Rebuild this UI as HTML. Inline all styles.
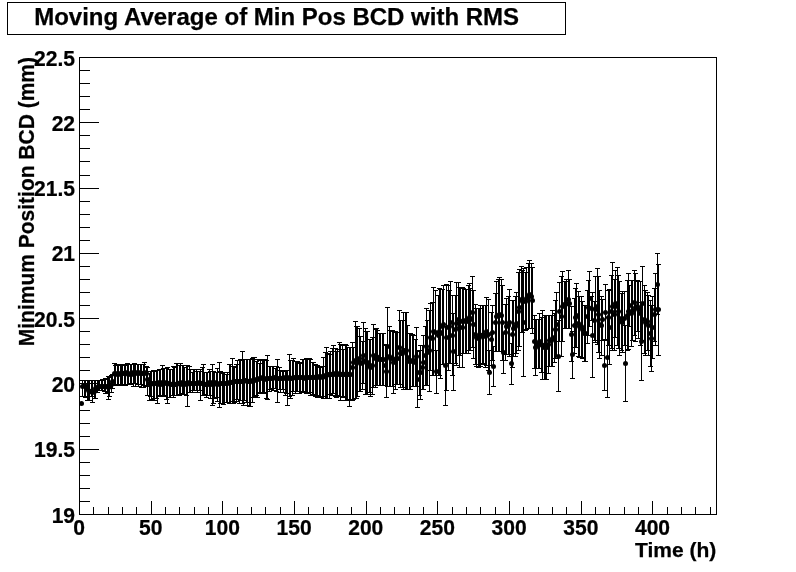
<!DOCTYPE html>
<html lang="en"><head><meta charset="utf-8"><title>Moving Average of Min Pos BCD with RMS</title>
<style>html,body{margin:0;padding:0;background:#fff;}body{width:796px;height:572px;overflow:hidden;}svg{display:block;}text{font-family:"Liberation Sans",sans-serif;font-weight:bold;fill:#000;stroke:#000;stroke-width:0.25px;}</style></head><body>
<svg width="796" height="572" viewBox="0 0 796 572">
<rect x="0" y="0" width="796" height="572" fill="#fff"/>
<rect x="7.5" y="2.5" width="558" height="32" fill="#fff" stroke="#000" stroke-width="1" shape-rendering="crispEdges"/>
<text transform="translate(34.2,25)" font-size="24.0" text-anchor="start">Moving Average of Min Pos BCD with RMS</text>
<g stroke="#000" stroke-width="1" shape-rendering="crispEdges" fill="none">
<rect x="79.5" y="57.5" width="637.0" height="457.0"/>
<path d="M79.5 514.5h19M79.5 501.5h10M79.5 488.5h10M79.5 475.5h10M79.5 462.5h10M79.5 449.5h19M79.5 436.5h10M79.5 423.5h10M79.5 410.5h10M79.5 396.5h10M79.5 383.5h19M79.5 370.5h10M79.5 357.5h10M79.5 344.5h10M79.5 331.5h10M79.5 318.5h19M79.5 305.5h10M79.5 292.5h10M79.5 279.5h10M79.5 266.5h10M79.5 253.5h19M79.5 240.5h10M79.5 227.5h10M79.5 214.5h10M79.5 201.5h10M79.5 188.5h19M79.5 175.5h10M79.5 161.5h10M79.5 148.5h10M79.5 135.5h10M79.5 122.5h19M79.5 109.5h10M79.5 96.5h10M79.5 83.5h10M79.5 70.5h10M79.5 57.5h19M79.5 514.5v-13.5M93.5 514.5v-7.5M108.5 514.5v-7.5M122.5 514.5v-7.5M136.5 514.5v-7.5M151.5 514.5v-13.5M165.5 514.5v-7.5M179.5 514.5v-7.5M194.5 514.5v-7.5M208.5 514.5v-7.5M222.5 514.5v-13.5M237.5 514.5v-7.5M251.5 514.5v-7.5M265.5 514.5v-7.5M280.5 514.5v-7.5M294.5 514.5v-13.5M308.5 514.5v-7.5M323.5 514.5v-7.5M337.5 514.5v-7.5M351.5 514.5v-7.5M366.5 514.5v-13.5M380.5 514.5v-7.5M394.5 514.5v-7.5M409.5 514.5v-7.5M423.5 514.5v-7.5M437.5 514.5v-13.5M452.5 514.5v-7.5M466.5 514.5v-7.5M480.5 514.5v-7.5M495.5 514.5v-7.5M509.5 514.5v-13.5M523.5 514.5v-7.5M538.5 514.5v-7.5M552.5 514.5v-7.5M566.5 514.5v-7.5M581.5 514.5v-13.5M595.5 514.5v-7.5M609.5 514.5v-7.5M624.5 514.5v-7.5M638.5 514.5v-7.5M652.5 514.5v-13.5M667.5 514.5v-7.5M681.5 514.5v-7.5M695.5 514.5v-7.5M710.5 514.5v-7.5"/>
</g>
<text transform="translate(75.1,522.5) scale(0.925,1)" font-size="22.8" text-anchor="end">19</text>
<text transform="translate(75.1,457.2142857142857) scale(0.925,1)" font-size="22.8" text-anchor="end">19.5</text>
<text transform="translate(75.1,391.92857142857144) scale(0.925,1)" font-size="22.8" text-anchor="end">20</text>
<text transform="translate(75.1,326.64285714285717) scale(0.925,1)" font-size="22.8" text-anchor="end">20.5</text>
<text transform="translate(75.1,261.3571428571429) scale(0.925,1)" font-size="22.8" text-anchor="end">21</text>
<text transform="translate(75.1,196.07142857142856) scale(0.925,1)" font-size="22.8" text-anchor="end">21.5</text>
<text transform="translate(75.1,130.78571428571433) scale(0.925,1)" font-size="22.8" text-anchor="end">22</text>
<text transform="translate(75.1,65.5) scale(0.925,1)" font-size="22.8" text-anchor="end">22.5</text>
<text transform="translate(79.0,535.3) scale(0.925,1)" font-size="22.8" text-anchor="middle">0</text>
<text transform="translate(150.6857978843124,535.3) scale(0.925,1)" font-size="22.8" text-anchor="middle">50</text>
<text transform="translate(222.3715957686248,535.3) scale(0.925,1)" font-size="22.8" text-anchor="middle">100</text>
<text transform="translate(294.0573936529372,535.3) scale(0.925,1)" font-size="22.8" text-anchor="middle">150</text>
<text transform="translate(365.7431915372496,535.3) scale(0.925,1)" font-size="22.8" text-anchor="middle">200</text>
<text transform="translate(437.428989421562,535.3) scale(0.925,1)" font-size="22.8" text-anchor="middle">250</text>
<text transform="translate(509.1147873058744,535.3) scale(0.925,1)" font-size="22.8" text-anchor="middle">300</text>
<text transform="translate(580.8005851901868,535.3) scale(0.925,1)" font-size="22.8" text-anchor="middle">350</text>
<text transform="translate(652.4863830744991,535.3) scale(0.925,1)" font-size="22.8" text-anchor="middle">400</text>
<text transform="translate(716.3,556.8)" font-size="21.0" text-anchor="end">Time (h)</text>
<text transform="translate(33.9,57.0) rotate(-90) scale(0.9375,1)" font-size="22.4" text-anchor="end">Minimum Position BCD (mm)</text>
<path d="M82.5 380.0V397.0M80.0 380.5h5M80.0 396.5h5M84.5 380.0V397.0M82.0 380.5h5M82.0 396.5h5M85.5 380.0V398.0M83.0 380.5h5M83.0 397.5h5M87.5 380.0V401.0M85.0 380.5h5M85.0 400.5h5M88.5 380.0V401.0M86.0 380.5h5M86.0 400.5h5M89.5 380.0V401.0M87.0 380.5h5M87.0 400.5h5M91.5 380.0V397.0M89.0 380.5h5M89.0 396.5h5M92.5 380.0V403.0M90.0 380.5h5M90.0 402.5h5M94.5 380.0V399.0M92.0 380.5h5M92.0 398.5h5M95.5 380.0V399.0M93.0 380.5h5M93.0 398.5h5M97.5 380.0V393.0M95.0 380.5h5M95.0 392.5h5M98.5 380.0V391.0M96.0 380.5h5M96.0 390.5h5M99.5 380.0V391.0M97.0 380.5h5M97.0 390.5h5M101.5 380.0V391.0M99.0 380.5h5M99.0 390.5h5M102.5 379.0V391.0M100.0 379.5h5M100.0 390.5h5M104.5 379.0V392.0M102.0 379.5h5M102.0 391.5h5M105.5 378.0V394.0M103.0 378.5h5M103.0 393.5h5M107.5 378.0V393.0M105.0 378.5h5M105.0 392.5h5M108.5 376.0V400.0M106.0 376.5h5M106.0 399.5h5M109.5 377.0V397.0M107.0 377.5h5M107.0 396.5h5M111.5 375.0V393.0M109.0 375.5h5M109.0 392.5h5M112.5 374.0V389.0M110.0 374.5h5M110.0 388.5h5M114.5 363.0V385.0M112.0 363.5h5M112.0 384.5h5M115.5 365.0V386.0M113.0 365.5h5M113.0 385.5h5M117.5 364.0V385.0M115.0 364.5h5M115.0 384.5h5M118.5 365.0V386.0M116.0 365.5h5M116.0 385.5h5M120.5 364.0V386.0M118.0 364.5h5M118.0 385.5h5M121.5 364.0V386.0M119.0 364.5h5M119.0 385.5h5M122.5 364.0V385.0M120.0 364.5h5M120.0 384.5h5M124.5 365.0V385.0M122.0 365.5h5M122.0 384.5h5M125.5 364.0V386.0M123.0 364.5h5M123.0 385.5h5M127.5 363.0V385.0M125.0 363.5h5M125.0 384.5h5M128.5 364.0V385.0M126.0 364.5h5M126.0 384.5h5M130.5 364.0V384.0M128.0 364.5h5M128.0 383.5h5M131.5 364.0V385.0M129.0 364.5h5M129.0 384.5h5M133.5 364.0V387.0M131.0 364.5h5M131.0 386.5h5M134.5 363.0V384.0M132.0 363.5h5M132.0 383.5h5M135.5 364.0V387.0M133.0 364.5h5M133.0 386.5h5M137.5 364.0V385.0M135.0 364.5h5M135.0 384.5h5M138.5 364.0V387.0M136.0 364.5h5M136.0 386.5h5M140.5 364.0V385.0M138.0 364.5h5M138.0 384.5h5M141.5 364.0V388.0M139.0 364.5h5M139.0 387.5h5M143.5 364.0V388.0M141.0 364.5h5M141.0 387.5h5M144.5 362.0V386.0M142.0 362.5h5M142.0 385.5h5M146.5 366.0V387.0M144.0 366.5h5M144.0 386.5h5M147.5 367.0V396.0M145.0 367.5h5M145.0 395.5h5M149.5 373.0V401.0M147.0 373.5h5M147.0 400.5h5M150.5 371.0V397.0M148.0 371.5h5M148.0 396.5h5M151.5 371.0V400.0M149.0 371.5h5M149.0 399.5h5M153.5 370.0V399.0M151.0 370.5h5M151.0 398.5h5M154.5 371.0V401.0M152.0 371.5h5M152.0 400.5h5M156.5 370.0V399.0M154.0 370.5h5M154.0 398.5h5M157.5 370.0V404.0M155.0 370.5h5M155.0 403.5h5M159.5 369.0V396.0M157.0 369.5h5M157.0 395.5h5M160.5 369.0V397.0M158.0 369.5h5M158.0 396.5h5M162.5 365.0V397.0M160.0 365.5h5M160.0 396.5h5M163.5 368.0V397.0M161.0 368.5h5M161.0 396.5h5M164.5 368.0V396.0M162.0 368.5h5M162.0 395.5h5M166.5 368.0V400.0M164.0 368.5h5M164.0 399.5h5M167.5 367.0V404.0M165.0 367.5h5M165.0 403.5h5M169.5 369.0V398.0M167.0 369.5h5M167.0 397.5h5M170.5 369.0V398.0M168.0 369.5h5M168.0 397.5h5M172.5 369.0V396.0M170.0 369.5h5M170.0 395.5h5M173.5 366.0V398.0M171.0 366.5h5M171.0 397.5h5M174.5 367.0V396.0M172.0 367.5h5M172.0 395.5h5M176.5 363.0V396.0M174.0 363.5h5M174.0 395.5h5M177.5 363.0V396.0M175.0 363.5h5M175.0 395.5h5M179.5 365.0V396.0M177.0 365.5h5M177.0 395.5h5M180.5 363.0V395.0M178.0 363.5h5M178.0 394.5h5M182.5 365.0V394.0M180.0 365.5h5M180.0 393.5h5M183.5 365.0V395.0M181.0 365.5h5M181.0 394.5h5M184.5 367.0V395.0M182.0 367.5h5M182.0 394.5h5M186.5 365.0V396.0M184.0 365.5h5M184.0 395.5h5M187.5 365.0V407.0M185.0 365.5h5M185.0 406.5h5M189.5 366.0V393.0M187.0 366.5h5M187.0 392.5h5M190.5 369.0V393.0M188.0 369.5h5M188.0 392.5h5M192.5 372.0V393.0M190.0 372.5h5M190.0 392.5h5M193.5 369.0V391.0M191.0 369.5h5M191.0 390.5h5M194.5 369.0V391.0M192.0 369.5h5M192.0 390.5h5M196.5 369.0V391.0M194.0 369.5h5M194.0 390.5h5M197.5 371.0V393.0M195.0 371.5h5M195.0 392.5h5M199.5 371.0V391.0M197.0 371.5h5M197.0 390.5h5M200.5 369.0V401.0M198.0 369.5h5M198.0 400.5h5M202.5 367.0V396.0M200.0 367.5h5M200.0 395.5h5M203.5 364.0V396.0M201.0 364.5h5M201.0 395.5h5M204.5 372.0V395.0M202.0 372.5h5M202.0 394.5h5M206.5 372.0V398.0M204.0 372.5h5M204.0 397.5h5M207.5 372.0V396.0M205.0 372.5h5M205.0 395.5h5M209.5 369.0V396.0M207.0 369.5h5M207.0 395.5h5M210.5 371.0V399.0M208.0 371.5h5M208.0 398.5h5M212.5 364.0V406.0M210.0 364.5h5M210.0 405.5h5M213.5 371.0V404.0M211.0 371.5h5M211.0 403.5h5M214.5 372.0V399.0M212.0 372.5h5M212.0 398.5h5M216.5 372.0V398.0M214.0 372.5h5M214.0 397.5h5M217.5 368.0V402.0M215.0 368.5h5M215.0 401.5h5M219.5 362.0V408.0M217.0 362.5h5M217.0 407.5h5M220.5 371.0V404.0M218.0 371.5h5M218.0 403.5h5M222.5 373.0V404.0M220.0 373.5h5M220.0 403.5h5M223.5 372.0V405.0M221.0 372.5h5M221.0 404.5h5M224.5 372.0V403.0M222.0 372.5h5M222.0 402.5h5M226.5 374.0V403.0M224.0 374.5h5M224.0 402.5h5M227.5 372.0V403.0M225.0 372.5h5M225.0 402.5h5M229.5 364.0V404.0M227.0 364.5h5M227.0 403.5h5M230.5 364.0V404.0M228.0 364.5h5M228.0 403.5h5M232.5 358.0V402.0M230.0 358.5h5M230.0 401.5h5M233.5 366.0V404.0M231.0 366.5h5M231.0 403.5h5M234.5 367.0V403.0M232.0 367.5h5M232.0 402.5h5M236.5 364.0V402.0M234.0 364.5h5M234.0 401.5h5M237.5 360.0V400.0M235.0 360.5h5M235.0 399.5h5M239.5 360.0V404.0M237.0 360.5h5M237.0 403.5h5M240.5 359.0V401.0M238.0 359.5h5M238.0 400.5h5M242.5 351.0V404.0M240.0 351.5h5M240.0 403.5h5M243.5 359.0V406.0M241.0 359.5h5M241.0 405.5h5M244.5 359.0V401.0M242.0 359.5h5M242.0 400.5h5M246.5 359.0V403.0M244.0 359.5h5M244.0 402.5h5M247.5 359.0V406.0M245.0 359.5h5M245.0 405.5h5M249.5 359.0V407.0M247.0 359.5h5M247.0 406.5h5M250.5 359.0V407.0M248.0 359.5h5M248.0 406.5h5M252.5 358.0V403.0M250.0 358.5h5M250.0 402.5h5M253.5 357.0V398.0M251.0 357.5h5M251.0 397.5h5M254.5 357.0V397.0M252.0 357.5h5M252.0 396.5h5M256.5 361.0V396.0M254.0 361.5h5M254.0 395.5h5M257.5 359.0V398.0M255.0 359.5h5M255.0 397.5h5M259.5 363.0V394.0M257.0 363.5h5M257.0 393.5h5M260.5 360.0V393.0M258.0 360.5h5M258.0 392.5h5M262.5 359.0V394.0M260.0 359.5h5M260.0 393.5h5M263.5 359.0V394.0M261.0 359.5h5M261.0 393.5h5M264.5 359.0V393.0M262.0 359.5h5M262.0 392.5h5M266.5 360.0V399.0M264.0 360.5h5M264.0 398.5h5M267.5 355.0V400.0M265.0 355.5h5M265.0 399.5h5M269.5 366.0V392.0M267.0 366.5h5M267.0 391.5h5M270.5 366.0V390.0M268.0 366.5h5M268.0 389.5h5M272.5 366.0V389.0M270.0 366.5h5M270.0 388.5h5M273.5 366.0V391.0M271.0 366.5h5M271.0 390.5h5M275.5 368.0V389.0M273.0 368.5h5M273.0 388.5h5M276.5 366.0V392.0M274.0 366.5h5M274.0 391.5h5M277.5 359.0V403.0M275.0 359.5h5M275.0 402.5h5M279.5 367.0V390.0M277.0 367.5h5M277.0 389.5h5M280.5 370.0V393.0M278.0 370.5h5M278.0 392.5h5M282.5 371.0V390.0M280.0 371.5h5M280.0 389.5h5M283.5 370.0V393.0M281.0 370.5h5M281.0 392.5h5M285.5 370.0V396.0M283.0 370.5h5M283.0 395.5h5M286.5 370.0V394.0M284.0 370.5h5M284.0 393.5h5M287.5 370.0V406.0M285.0 370.5h5M285.0 405.5h5M289.5 354.0V397.0M287.0 354.5h5M287.0 396.5h5M290.5 360.0V399.0M288.0 360.5h5M288.0 398.5h5M292.5 360.0V396.0M290.0 360.5h5M290.0 395.5h5M293.5 358.0V392.0M291.0 358.5h5M291.0 391.5h5M295.5 361.0V394.0M293.0 361.5h5M293.0 393.5h5M296.5 361.0V392.0M294.0 361.5h5M294.0 391.5h5M297.5 361.0V392.0M295.0 361.5h5M295.0 391.5h5M299.5 363.0V394.0M297.0 363.5h5M297.0 393.5h5M300.5 362.0V392.0M298.0 362.5h5M298.0 391.5h5M302.5 359.0V393.0M300.0 359.5h5M300.0 392.5h5M303.5 359.0V392.0M301.0 359.5h5M301.0 391.5h5M305.5 359.0V393.0M303.0 359.5h5M303.0 392.5h5M306.5 358.0V394.0M304.0 358.5h5M304.0 393.5h5M307.5 358.0V394.0M305.0 358.5h5M305.0 393.5h5M309.5 358.0V393.0M307.0 358.5h5M307.0 392.5h5M310.5 359.0V396.0M308.0 359.5h5M308.0 395.5h5M312.5 362.0V396.0M310.0 362.5h5M310.0 395.5h5M313.5 362.0V395.0M311.0 362.5h5M311.0 394.5h5M315.5 364.0V397.0M313.0 364.5h5M313.0 396.5h5M316.5 365.0V396.0M314.0 365.5h5M314.0 395.5h5M317.5 365.0V398.0M315.0 365.5h5M315.0 397.5h5M319.5 366.0V397.0M317.0 366.5h5M317.0 396.5h5M320.5 367.0V398.0M318.0 367.5h5M318.0 397.5h5M322.5 366.0V397.0M320.0 366.5h5M320.0 396.5h5M323.5 357.0V399.0M321.0 357.5h5M321.0 398.5h5M325.5 352.0V399.0M323.0 352.5h5M323.0 398.5h5M326.5 347.0V399.0M324.0 347.5h5M324.0 398.5h5M327.5 353.0V399.0M325.0 353.5h5M325.0 398.5h5M329.5 354.0V399.0M327.0 354.5h5M327.0 398.5h5M330.5 351.0V395.0M328.0 351.5h5M328.0 394.5h5M332.5 348.0V396.0M330.0 348.5h5M330.0 395.5h5M333.5 345.0V394.0M331.0 345.5h5M331.0 393.5h5M335.5 348.0V397.0M333.0 348.5h5M333.0 396.5h5M336.5 351.0V398.0M334.0 351.5h5M334.0 397.5h5M337.5 349.0V396.0M335.0 349.5h5M335.0 395.5h5M339.5 342.0V397.0M337.0 342.5h5M337.0 396.5h5M340.5 344.0V401.0M338.0 344.5h5M338.0 400.5h5M342.5 345.0V398.0M340.0 345.5h5M340.0 397.5h5M343.5 349.0V397.0M341.0 349.5h5M341.0 396.5h5M345.5 344.0V401.0M343.0 344.5h5M343.0 400.5h5M346.5 345.0V401.0M344.0 345.5h5M344.0 400.5h5M347.5 347.0V400.0M345.0 347.5h5M345.0 399.5h5M349.5 347.0V407.0M347.0 347.5h5M347.0 406.5h5M350.5 347.0V400.0M348.0 347.5h5M348.0 399.5h5M352.5 342.0V401.0M350.0 342.5h5M350.0 400.5h5M353.5 347.0V400.0M351.0 347.5h5M351.0 399.5h5M355.5 321.0V399.0M353.0 321.5h5M353.0 398.5h5M356.5 326.0V399.0M354.0 326.5h5M354.0 398.5h5M357.5 326.0V397.0M355.0 326.5h5M355.0 396.5h5M359.5 328.0V392.0M357.0 328.5h5M357.0 391.5h5M360.5 336.0V392.0M358.0 336.5h5M358.0 391.5h5M362.5 341.0V390.0M360.0 341.5h5M360.0 389.5h5M363.5 322.0V384.0M361.0 322.5h5M361.0 383.5h5M365.5 328.0V395.0M363.0 328.5h5M363.0 394.5h5M366.5 331.0V395.0M364.0 331.5h5M364.0 394.5h5M367.5 331.0V395.0M365.0 331.5h5M365.0 394.5h5M369.5 339.0V393.0M367.0 339.5h5M367.0 392.5h5M370.5 339.0V397.0M368.0 339.5h5M368.0 396.5h5M372.5 337.0V395.0M370.0 337.5h5M370.0 394.5h5M373.5 324.0V388.0M371.0 324.5h5M371.0 387.5h5M375.5 329.0V388.0M373.0 329.5h5M373.0 387.5h5M376.5 328.0V386.0M374.0 328.5h5M374.0 385.5h5M377.5 330.0V386.0M375.0 330.5h5M375.0 385.5h5M379.5 333.0V386.0M377.0 333.5h5M377.0 385.5h5M380.5 333.0V386.0M378.0 333.5h5M378.0 385.5h5M382.5 333.0V386.0M380.0 333.5h5M380.0 385.5h5M383.5 333.0V386.0M381.0 333.5h5M381.0 385.5h5M385.5 344.0V386.0M383.0 344.5h5M383.0 385.5h5M386.5 345.0V398.0M384.0 345.5h5M384.0 397.5h5M387.5 307.0V387.0M385.0 307.5h5M385.0 386.5h5M389.5 326.0V387.0M387.0 326.5h5M387.0 386.5h5M390.5 330.0V387.0M388.0 330.5h5M388.0 386.5h5M392.5 330.0V387.0M390.0 330.5h5M390.0 386.5h5M393.5 331.0V394.0M391.0 331.5h5M391.0 393.5h5M395.5 331.0V390.0M393.0 331.5h5M393.0 389.5h5M396.5 332.0V385.0M394.0 332.5h5M394.0 384.5h5M397.5 332.0V385.0M395.0 332.5h5M395.0 384.5h5M399.5 310.0V385.0M397.0 310.5h5M397.0 384.5h5M400.5 320.0V388.0M398.0 320.5h5M398.0 387.5h5M402.5 320.0V388.0M400.0 320.5h5M400.0 387.5h5M403.5 312.0V390.0M401.0 312.5h5M401.0 389.5h5M405.5 312.0V390.0M403.0 312.5h5M403.0 389.5h5M406.5 312.0V390.0M404.0 312.5h5M404.0 389.5h5M407.5 325.0V390.0M405.0 325.5h5M405.0 389.5h5M409.5 333.0V390.0M407.0 333.5h5M407.0 389.5h5M410.5 333.0V390.0M408.0 333.5h5M408.0 389.5h5M412.5 334.0V387.0M410.0 334.5h5M410.0 386.5h5M413.5 335.0V387.0M411.0 335.5h5M411.0 386.5h5M415.5 339.0V387.0M413.0 339.5h5M413.0 386.5h5M416.5 327.0V387.0M414.0 327.5h5M414.0 386.5h5M417.5 351.0V408.0M415.0 351.5h5M415.0 407.5h5M419.5 350.0V396.0M417.0 350.5h5M417.0 395.5h5M420.5 345.0V400.0M418.0 345.5h5M418.0 399.5h5M422.5 345.0V390.0M420.0 345.5h5M420.0 389.5h5M423.5 335.0V390.0M421.0 335.5h5M421.0 389.5h5M425.5 326.0V386.0M423.0 326.5h5M423.0 385.5h5M426.5 308.0V386.0M424.0 308.5h5M424.0 385.5h5M427.5 320.0V386.0M425.0 320.5h5M425.0 385.5h5M429.5 310.0V392.0M427.0 310.5h5M427.0 391.5h5M430.5 303.0V371.0M428.0 303.5h5M428.0 370.5h5M432.5 302.0V376.0M430.0 302.5h5M430.0 375.5h5M433.5 287.0V376.0M431.0 287.5h5M431.0 375.5h5M435.5 290.0V376.0M433.0 290.5h5M433.0 375.5h5M436.5 350.0V394.0M434.0 350.5h5M434.0 393.5h5M438.5 295.0V376.0M436.0 295.5h5M436.0 375.5h5M439.5 288.0V376.0M437.0 288.5h5M437.0 375.5h5M440.5 289.0V379.0M438.0 289.5h5M438.0 378.5h5M442.5 289.0V365.0M440.0 289.5h5M440.0 364.5h5M443.5 285.0V365.0M441.0 285.5h5M441.0 364.5h5M445.5 326.0V406.0M443.0 326.5h5M443.0 405.5h5M446.5 284.0V391.0M444.0 284.5h5M444.0 390.5h5M448.5 285.0V371.0M446.0 285.5h5M446.0 370.5h5M449.5 290.0V364.0M447.0 290.5h5M447.0 363.5h5M450.5 281.0V364.0M448.0 281.5h5M448.0 363.5h5M452.5 295.0V376.0M450.0 295.5h5M450.0 375.5h5M453.5 313.0V391.0M451.0 313.5h5M451.0 390.5h5M455.5 295.0V364.0M453.0 295.5h5M453.0 363.5h5M456.5 282.0V366.0M454.0 282.5h5M454.0 365.5h5M458.5 282.0V356.0M456.0 282.5h5M456.0 355.5h5M459.5 287.0V368.0M457.0 287.5h5M457.0 367.5h5M460.5 287.0V356.0M458.0 287.5h5M458.0 355.5h5M462.5 287.0V368.0M460.0 287.5h5M460.0 367.5h5M463.5 288.0V354.0M461.0 288.5h5M461.0 353.5h5M465.5 289.0V354.0M463.0 289.5h5M463.0 353.5h5M466.5 289.0V354.0M464.0 289.5h5M464.0 353.5h5M468.5 285.0V354.0M466.0 285.5h5M466.0 353.5h5M469.5 283.0V351.0M467.0 283.5h5M467.0 350.5h5M470.5 288.0V351.0M468.0 288.5h5M468.0 350.5h5M472.5 276.0V348.0M470.0 276.5h5M470.0 347.5h5M473.5 290.0V359.0M471.0 290.5h5M471.0 358.5h5M475.5 304.0V365.0M473.0 304.5h5M473.0 364.5h5M476.5 308.0V367.0M474.0 308.5h5M474.0 366.5h5M478.5 308.0V368.0M476.0 308.5h5M476.0 367.5h5M479.5 308.0V367.0M477.0 308.5h5M477.0 366.5h5M480.5 305.0V367.0M478.0 305.5h5M478.0 366.5h5M482.5 305.0V365.0M480.0 305.5h5M480.0 364.5h5M483.5 305.0V364.0M481.0 305.5h5M481.0 363.5h5M485.5 305.0V368.0M483.0 305.5h5M483.0 367.5h5M486.5 297.0V366.0M484.0 297.5h5M484.0 365.5h5M488.5 299.0V371.0M486.0 299.5h5M486.0 370.5h5M489.5 350.0V395.0M487.0 350.5h5M487.0 394.5h5M491.5 312.0V366.0M489.0 312.5h5M489.0 365.5h5M492.5 305.0V361.0M490.0 305.5h5M490.0 360.5h5M493.5 346.0V387.0M491.0 346.5h5M491.0 386.5h5M495.5 293.0V352.0M493.0 293.5h5M493.0 351.5h5M496.5 281.0V352.0M494.0 281.5h5M494.0 351.5h5M498.5 279.0V352.0M496.0 279.5h5M496.0 351.5h5M499.5 277.0V352.0M497.0 277.5h5M497.0 351.5h5M501.5 279.0V352.0M499.0 279.5h5M499.0 351.5h5M502.5 285.0V361.0M500.0 285.5h5M500.0 360.5h5M503.5 332.0V374.0M501.0 332.5h5M501.0 373.5h5M505.5 304.0V361.0M503.0 304.5h5M503.0 360.5h5M506.5 298.0V355.0M504.0 298.5h5M504.0 354.5h5M508.5 296.0V355.0M506.0 296.5h5M506.0 354.5h5M509.5 289.0V357.0M507.0 289.5h5M507.0 356.5h5M511.5 343.0V385.0M509.0 343.5h5M509.0 384.5h5M512.5 300.0V368.0M510.0 300.5h5M510.0 367.5h5M513.5 300.0V357.0M511.0 300.5h5M511.0 356.5h5M515.5 296.0V357.0M513.0 296.5h5M513.0 356.5h5M516.5 292.0V354.0M514.0 292.5h5M514.0 353.5h5M518.5 272.0V351.0M516.0 272.5h5M516.0 350.5h5M519.5 269.0V347.0M517.0 269.5h5M517.0 346.5h5M521.5 266.0V333.0M519.0 266.5h5M519.0 332.5h5M522.5 270.0V333.0M520.0 270.5h5M520.0 332.5h5M523.5 268.0V377.0M521.0 268.5h5M521.0 376.5h5M525.5 272.0V331.0M523.0 272.5h5M523.0 330.5h5M526.5 267.0V330.0M524.0 267.5h5M524.0 329.5h5M528.5 263.0V329.0M526.0 263.5h5M526.0 328.5h5M529.5 260.0V329.0M527.0 260.5h5M527.0 328.5h5M531.5 263.0V329.0M529.0 263.5h5M529.0 328.5h5M532.5 267.0V334.0M530.0 267.5h5M530.0 333.5h5M534.5 315.0V369.0M532.0 315.5h5M532.0 368.5h5M535.5 319.0V376.0M533.0 319.5h5M533.0 375.5h5M536.5 319.0V369.0M534.0 319.5h5M534.0 368.5h5M538.5 319.0V369.0M536.0 319.5h5M536.0 368.5h5M539.5 313.0V369.0M537.0 313.5h5M537.0 368.5h5M541.5 317.0V373.0M539.0 317.5h5M539.0 372.5h5M542.5 310.0V380.0M540.0 310.5h5M540.0 379.5h5M544.5 315.0V380.0M542.0 315.5h5M542.0 379.5h5M545.5 315.0V380.0M543.0 315.5h5M543.0 379.5h5M546.5 315.0V380.0M544.0 315.5h5M544.0 379.5h5M548.5 315.0V374.0M546.0 315.5h5M546.0 373.5h5M549.5 315.0V367.0M547.0 315.5h5M547.0 366.5h5M551.5 315.0V367.0M549.0 315.5h5M549.0 366.5h5M552.5 310.0V367.0M550.0 310.5h5M550.0 366.5h5M554.5 313.0V363.0M552.0 313.5h5M552.0 362.5h5M555.5 300.0V359.0M553.0 300.5h5M553.0 358.5h5M556.5 292.0V357.0M554.0 292.5h5M554.0 356.5h5M558.5 320.0V392.0M556.0 320.5h5M556.0 391.5h5M559.5 282.0V342.0M557.0 282.5h5M557.0 341.5h5M561.5 276.0V357.0M559.0 276.5h5M559.0 356.5h5M562.5 271.0V342.0M560.0 271.5h5M560.0 341.5h5M564.5 281.0V329.0M562.0 281.5h5M562.0 328.5h5M565.5 281.0V329.0M563.0 281.5h5M563.0 328.5h5M566.5 279.0V329.0M564.0 279.5h5M564.0 328.5h5M568.5 270.0V329.0M566.0 270.5h5M566.0 328.5h5M569.5 279.0V329.0M567.0 279.5h5M567.0 328.5h5M571.5 306.0V362.0M569.0 306.5h5M569.0 361.5h5M572.5 331.0V379.0M570.0 331.5h5M570.0 378.5h5M574.5 298.0V354.0M572.0 298.5h5M572.0 353.5h5M575.5 288.0V348.0M573.0 288.5h5M573.0 347.5h5M576.5 283.0V348.0M574.0 283.5h5M574.0 347.5h5M578.5 291.0V357.0M576.0 291.5h5M576.0 356.5h5M579.5 296.0V358.0M577.0 296.5h5M577.0 357.5h5M581.5 296.0V358.0M579.0 296.5h5M579.0 357.5h5M582.5 301.0V359.0M580.0 301.5h5M580.0 358.5h5M584.5 305.0V362.0M582.0 305.5h5M582.0 361.5h5M585.5 305.0V362.0M583.0 305.5h5M583.0 361.5h5M587.5 290.0V344.0M585.0 290.5h5M585.0 343.5h5M588.5 280.0V336.0M586.0 280.5h5M586.0 335.5h5M589.5 271.0V327.0M587.0 271.5h5M587.0 326.5h5M591.5 296.0V321.0M589.0 296.5h5M589.0 320.5h5M592.5 292.0V378.0M590.0 292.5h5M590.0 377.5h5M594.5 301.0V341.0M592.0 301.5h5M592.0 340.5h5M595.5 276.0V343.0M593.0 276.5h5M593.0 342.5h5M597.5 268.0V345.0M595.0 268.5h5M595.0 344.5h5M598.5 276.0V353.0M596.0 276.5h5M596.0 352.5h5M599.5 290.0V359.0M597.0 290.5h5M597.0 358.5h5M601.5 296.0V356.0M599.0 296.5h5M599.0 355.5h5M602.5 299.0V341.0M600.0 299.5h5M600.0 340.5h5M604.5 339.0V391.0M602.0 339.5h5M602.0 390.5h5M605.5 284.0V341.0M603.0 284.5h5M603.0 340.5h5M607.5 317.0V398.0M605.0 317.5h5M605.0 397.5h5M608.5 290.0V346.0M606.0 290.5h5M606.0 345.5h5M609.5 289.0V365.0M607.0 289.5h5M607.0 364.5h5M611.5 275.0V349.0M609.0 275.5h5M609.0 348.5h5M612.5 262.0V351.0M610.0 262.5h5M610.0 350.5h5M614.5 279.0V351.0M612.0 279.5h5M612.0 350.5h5M615.5 270.0V338.0M613.0 270.5h5M613.0 337.5h5M617.5 267.0V346.0M615.0 267.5h5M615.0 345.5h5M618.5 275.0V349.0M616.0 275.5h5M616.0 348.5h5M619.5 281.0V356.0M617.0 281.5h5M617.0 355.5h5M621.5 293.0V351.0M619.0 293.5h5M619.0 350.5h5M622.5 291.0V353.0M620.0 291.5h5M620.0 352.5h5M624.5 291.0V346.0M622.0 291.5h5M622.0 345.5h5M625.5 325.0V402.0M623.0 325.5h5M623.0 401.5h5M627.5 280.0V351.0M625.0 280.5h5M625.0 350.5h5M628.5 273.0V350.0M626.0 273.5h5M626.0 349.5h5M629.5 285.0V327.0M627.0 285.5h5M627.0 326.5h5M631.5 280.0V347.0M629.0 280.5h5M629.0 346.5h5M632.5 280.0V341.0M630.0 280.5h5M630.0 340.5h5M634.5 270.0V336.0M632.0 270.5h5M632.0 335.5h5M635.5 273.0V342.0M633.0 273.5h5M633.0 341.5h5M637.5 280.0V332.0M635.0 280.5h5M635.0 331.5h5M638.5 281.0V339.0M636.0 281.5h5M636.0 338.5h5M640.5 281.0V346.0M638.0 281.5h5M638.0 345.5h5M641.5 302.0V381.0M639.0 302.5h5M639.0 380.5h5M642.5 266.0V341.0M640.0 266.5h5M640.0 340.5h5M644.5 285.0V354.0M642.0 285.5h5M642.0 353.5h5M645.5 290.0V356.0M643.0 290.5h5M643.0 355.5h5M647.5 292.0V351.0M645.0 292.5h5M645.0 350.5h5M648.5 295.0V356.0M646.0 295.5h5M646.0 355.5h5M650.5 300.0V367.0M648.0 300.5h5M648.0 366.5h5M651.5 305.0V372.0M649.0 305.5h5M649.0 371.5h5M652.5 296.0V359.0M650.0 296.5h5M650.0 358.5h5M654.5 288.0V342.0M652.0 288.5h5M652.0 341.5h5M655.5 273.0V346.0M653.0 273.5h5M653.0 345.5h5M657.5 253.0V315.0M655.0 253.5h5M655.0 314.5h5M658.5 264.0V356.0M656.0 264.5h5M656.0 355.5h5" stroke="#000" stroke-width="1" fill="none" shape-rendering="crispEdges"/>
<g fill="#000"><circle cx="81.5" cy="403.5" r="2.5"/><circle cx="82.5" cy="386.5" r="2.5"/><circle cx="84.5" cy="385.5" r="2.5"/><circle cx="85.5" cy="386.5" r="2.5"/><circle cx="87.5" cy="388.5" r="2.5"/><circle cx="88.5" cy="390.5" r="2.5"/><circle cx="89.5" cy="391.5" r="2.5"/><circle cx="91.5" cy="391.5" r="2.5"/><circle cx="92.5" cy="392.5" r="2.5"/><circle cx="94.5" cy="391.5" r="2.5"/><circle cx="95.5" cy="388.5" r="2.5"/><circle cx="97.5" cy="387.5" r="2.5"/><circle cx="98.5" cy="386.5" r="2.5"/><circle cx="99.5" cy="386.5" r="2.5"/><circle cx="101.5" cy="386.5" r="2.5"/><circle cx="102.5" cy="386.5" r="2.5"/><circle cx="104.5" cy="386.5" r="2.5"/><circle cx="105.5" cy="386.5" r="2.5"/><circle cx="107.5" cy="386.5" r="2.5"/><circle cx="108.5" cy="387.5" r="2.5"/><circle cx="109.5" cy="385.5" r="2.5"/><circle cx="111.5" cy="384.5" r="2.5"/><circle cx="112.5" cy="381.5" r="2.5"/><circle cx="114.5" cy="373.5" r="2.5"/><circle cx="115.5" cy="374.5" r="2.5"/><circle cx="117.5" cy="373.5" r="2.5"/><circle cx="118.5" cy="373.5" r="2.5"/><circle cx="120.5" cy="374.5" r="2.5"/><circle cx="121.5" cy="373.5" r="2.5"/><circle cx="122.5" cy="373.5" r="2.5"/><circle cx="124.5" cy="373.5" r="2.5"/><circle cx="125.5" cy="372.5" r="2.5"/><circle cx="127.5" cy="373.5" r="2.5"/><circle cx="128.5" cy="374.5" r="2.5"/><circle cx="130.5" cy="373.5" r="2.5"/><circle cx="131.5" cy="374.5" r="2.5"/><circle cx="133.5" cy="372.5" r="2.5"/><circle cx="134.5" cy="373.5" r="2.5"/><circle cx="135.5" cy="372.5" r="2.5"/><circle cx="137.5" cy="373.5" r="2.5"/><circle cx="138.5" cy="372.5" r="2.5"/><circle cx="140.5" cy="373.5" r="2.5"/><circle cx="141.5" cy="373.5" r="2.5"/><circle cx="143.5" cy="373.5" r="2.5"/><circle cx="144.5" cy="372.5" r="2.5"/><circle cx="146.5" cy="373.5" r="2.5"/><circle cx="147.5" cy="379.5" r="2.5"/><circle cx="149.5" cy="383.5" r="2.5"/><circle cx="150.5" cy="384.5" r="2.5"/><circle cx="151.5" cy="383.5" r="2.5"/><circle cx="153.5" cy="383.5" r="2.5"/><circle cx="154.5" cy="383.5" r="2.5"/><circle cx="156.5" cy="383.5" r="2.5"/><circle cx="157.5" cy="382.5" r="2.5"/><circle cx="159.5" cy="384.5" r="2.5"/><circle cx="160.5" cy="382.5" r="2.5"/><circle cx="162.5" cy="384.5" r="2.5"/><circle cx="163.5" cy="383.5" r="2.5"/><circle cx="164.5" cy="383.5" r="2.5"/><circle cx="166.5" cy="382.5" r="2.5"/><circle cx="167.5" cy="383.5" r="2.5"/><circle cx="169.5" cy="383.5" r="2.5"/><circle cx="170.5" cy="384.5" r="2.5"/><circle cx="172.5" cy="384.5" r="2.5"/><circle cx="173.5" cy="384.5" r="2.5"/><circle cx="174.5" cy="384.5" r="2.5"/><circle cx="176.5" cy="384.5" r="2.5"/><circle cx="177.5" cy="383.5" r="2.5"/><circle cx="179.5" cy="383.5" r="2.5"/><circle cx="180.5" cy="382.5" r="2.5"/><circle cx="182.5" cy="384.5" r="2.5"/><circle cx="183.5" cy="383.5" r="2.5"/><circle cx="184.5" cy="383.5" r="2.5"/><circle cx="186.5" cy="384.5" r="2.5"/><circle cx="187.5" cy="382.5" r="2.5"/><circle cx="189.5" cy="383.5" r="2.5"/><circle cx="190.5" cy="383.5" r="2.5"/><circle cx="192.5" cy="383.5" r="2.5"/><circle cx="193.5" cy="383.5" r="2.5"/><circle cx="194.5" cy="383.5" r="2.5"/><circle cx="196.5" cy="383.5" r="2.5"/><circle cx="197.5" cy="383.5" r="2.5"/><circle cx="199.5" cy="382.5" r="2.5"/><circle cx="200.5" cy="383.5" r="2.5"/><circle cx="202.5" cy="383.5" r="2.5"/><circle cx="203.5" cy="383.5" r="2.5"/><circle cx="204.5" cy="384.5" r="2.5"/><circle cx="206.5" cy="384.5" r="2.5"/><circle cx="207.5" cy="384.5" r="2.5"/><circle cx="209.5" cy="382.5" r="2.5"/><circle cx="210.5" cy="384.5" r="2.5"/><circle cx="212.5" cy="382.5" r="2.5"/><circle cx="213.5" cy="384.5" r="2.5"/><circle cx="214.5" cy="382.5" r="2.5"/><circle cx="216.5" cy="383.5" r="2.5"/><circle cx="217.5" cy="384.5" r="2.5"/><circle cx="219.5" cy="383.5" r="2.5"/><circle cx="220.5" cy="383.5" r="2.5"/><circle cx="222.5" cy="383.5" r="2.5"/><circle cx="223.5" cy="383.5" r="2.5"/><circle cx="224.5" cy="383.5" r="2.5"/><circle cx="226.5" cy="383.5" r="2.5"/><circle cx="227.5" cy="383.5" r="2.5"/><circle cx="229.5" cy="382.5" r="2.5"/><circle cx="230.5" cy="382.5" r="2.5"/><circle cx="232.5" cy="382.5" r="2.5"/><circle cx="233.5" cy="381.5" r="2.5"/><circle cx="234.5" cy="381.5" r="2.5"/><circle cx="236.5" cy="381.5" r="2.5"/><circle cx="237.5" cy="381.5" r="2.5"/><circle cx="239.5" cy="381.5" r="2.5"/><circle cx="240.5" cy="381.5" r="2.5"/><circle cx="242.5" cy="381.5" r="2.5"/><circle cx="243.5" cy="381.5" r="2.5"/><circle cx="244.5" cy="380.5" r="2.5"/><circle cx="246.5" cy="380.5" r="2.5"/><circle cx="247.5" cy="381.5" r="2.5"/><circle cx="249.5" cy="381.5" r="2.5"/><circle cx="250.5" cy="381.5" r="2.5"/><circle cx="252.5" cy="380.5" r="2.5"/><circle cx="253.5" cy="380.5" r="2.5"/><circle cx="254.5" cy="380.5" r="2.5"/><circle cx="256.5" cy="379.5" r="2.5"/><circle cx="257.5" cy="379.5" r="2.5"/><circle cx="259.5" cy="378.5" r="2.5"/><circle cx="260.5" cy="378.5" r="2.5"/><circle cx="262.5" cy="377.5" r="2.5"/><circle cx="263.5" cy="378.5" r="2.5"/><circle cx="264.5" cy="379.5" r="2.5"/><circle cx="266.5" cy="378.5" r="2.5"/><circle cx="267.5" cy="378.5" r="2.5"/><circle cx="269.5" cy="378.5" r="2.5"/><circle cx="270.5" cy="378.5" r="2.5"/><circle cx="272.5" cy="378.5" r="2.5"/><circle cx="273.5" cy="377.5" r="2.5"/><circle cx="275.5" cy="377.5" r="2.5"/><circle cx="276.5" cy="378.5" r="2.5"/><circle cx="277.5" cy="378.5" r="2.5"/><circle cx="279.5" cy="378.5" r="2.5"/><circle cx="280.5" cy="378.5" r="2.5"/><circle cx="282.5" cy="378.5" r="2.5"/><circle cx="283.5" cy="377.5" r="2.5"/><circle cx="285.5" cy="378.5" r="2.5"/><circle cx="286.5" cy="377.5" r="2.5"/><circle cx="287.5" cy="378.5" r="2.5"/><circle cx="289.5" cy="377.5" r="2.5"/><circle cx="290.5" cy="378.5" r="2.5"/><circle cx="292.5" cy="378.5" r="2.5"/><circle cx="293.5" cy="377.5" r="2.5"/><circle cx="295.5" cy="377.5" r="2.5"/><circle cx="296.5" cy="377.5" r="2.5"/><circle cx="297.5" cy="377.5" r="2.5"/><circle cx="299.5" cy="377.5" r="2.5"/><circle cx="300.5" cy="377.5" r="2.5"/><circle cx="302.5" cy="377.5" r="2.5"/><circle cx="303.5" cy="377.5" r="2.5"/><circle cx="305.5" cy="378.5" r="2.5"/><circle cx="306.5" cy="377.5" r="2.5"/><circle cx="307.5" cy="377.5" r="2.5"/><circle cx="309.5" cy="377.5" r="2.5"/><circle cx="310.5" cy="377.5" r="2.5"/><circle cx="312.5" cy="377.5" r="2.5"/><circle cx="313.5" cy="377.5" r="2.5"/><circle cx="315.5" cy="377.5" r="2.5"/><circle cx="316.5" cy="376.5" r="2.5"/><circle cx="317.5" cy="377.5" r="2.5"/><circle cx="319.5" cy="376.5" r="2.5"/><circle cx="320.5" cy="376.5" r="2.5"/><circle cx="322.5" cy="377.5" r="2.5"/><circle cx="323.5" cy="376.5" r="2.5"/><circle cx="325.5" cy="375.5" r="2.5"/><circle cx="326.5" cy="375.5" r="2.5"/><circle cx="327.5" cy="374.5" r="2.5"/><circle cx="329.5" cy="374.5" r="2.5"/><circle cx="330.5" cy="374.5" r="2.5"/><circle cx="332.5" cy="374.5" r="2.5"/><circle cx="333.5" cy="373.5" r="2.5"/><circle cx="335.5" cy="374.5" r="2.5"/><circle cx="336.5" cy="374.5" r="2.5"/><circle cx="337.5" cy="374.5" r="2.5"/><circle cx="339.5" cy="373.5" r="2.5"/><circle cx="340.5" cy="374.5" r="2.5"/><circle cx="342.5" cy="374.5" r="2.5"/><circle cx="343.5" cy="374.5" r="2.5"/><circle cx="345.5" cy="374.5" r="2.5"/><circle cx="346.5" cy="373.5" r="2.5"/><circle cx="347.5" cy="374.5" r="2.5"/><circle cx="349.5" cy="374.5" r="2.5"/><circle cx="350.5" cy="374.5" r="2.5"/><circle cx="352.5" cy="367.5" r="2.5"/><circle cx="353.5" cy="362.5" r="2.5"/><circle cx="355.5" cy="360.5" r="2.5"/><circle cx="356.5" cy="362.5" r="2.5"/><circle cx="357.5" cy="361.5" r="2.5"/><circle cx="359.5" cy="358.5" r="2.5"/><circle cx="360.5" cy="363.5" r="2.5"/><circle cx="362.5" cy="362.5" r="2.5"/><circle cx="363.5" cy="355.5" r="2.5"/><circle cx="365.5" cy="360.5" r="2.5"/><circle cx="366.5" cy="362.5" r="2.5"/><circle cx="367.5" cy="362.5" r="2.5"/><circle cx="369.5" cy="365.5" r="2.5"/><circle cx="370.5" cy="367.5" r="2.5"/><circle cx="372.5" cy="365.5" r="2.5"/><circle cx="373.5" cy="355.5" r="2.5"/><circle cx="375.5" cy="358.5" r="2.5"/><circle cx="376.5" cy="356.5" r="2.5"/><circle cx="377.5" cy="357.5" r="2.5"/><circle cx="379.5" cy="359.5" r="2.5"/><circle cx="380.5" cy="359.5" r="2.5"/><circle cx="382.5" cy="359.5" r="2.5"/><circle cx="383.5" cy="359.5" r="2.5"/><circle cx="385.5" cy="365.5" r="2.5"/><circle cx="386.5" cy="371.5" r="2.5"/><circle cx="387.5" cy="346.5" r="2.5"/><circle cx="389.5" cy="356.5" r="2.5"/><circle cx="390.5" cy="358.5" r="2.5"/><circle cx="392.5" cy="358.5" r="2.5"/><circle cx="393.5" cy="362.5" r="2.5"/><circle cx="395.5" cy="360.5" r="2.5"/><circle cx="396.5" cy="358.5" r="2.5"/><circle cx="397.5" cy="358.5" r="2.5"/><circle cx="399.5" cy="347.5" r="2.5"/><circle cx="400.5" cy="353.5" r="2.5"/><circle cx="402.5" cy="353.5" r="2.5"/><circle cx="403.5" cy="350.5" r="2.5"/><circle cx="405.5" cy="350.5" r="2.5"/><circle cx="406.5" cy="350.5" r="2.5"/><circle cx="407.5" cy="357.5" r="2.5"/><circle cx="409.5" cy="361.5" r="2.5"/><circle cx="410.5" cy="361.5" r="2.5"/><circle cx="412.5" cy="360.5" r="2.5"/><circle cx="413.5" cy="360.5" r="2.5"/><circle cx="415.5" cy="362.5" r="2.5"/><circle cx="416.5" cy="356.5" r="2.5"/><circle cx="417.5" cy="379.5" r="2.5"/><circle cx="419.5" cy="372.5" r="2.5"/><circle cx="420.5" cy="372.5" r="2.5"/><circle cx="422.5" cy="367.5" r="2.5"/><circle cx="423.5" cy="362.5" r="2.5"/><circle cx="425.5" cy="355.5" r="2.5"/><circle cx="426.5" cy="346.5" r="2.5"/><circle cx="427.5" cy="352.5" r="2.5"/><circle cx="429.5" cy="350.5" r="2.5"/><circle cx="430.5" cy="337.5" r="2.5"/><circle cx="432.5" cy="338.5" r="2.5"/><circle cx="433.5" cy="331.5" r="2.5"/><circle cx="435.5" cy="332.5" r="2.5"/><circle cx="436.5" cy="371.5" r="2.5"/><circle cx="438.5" cy="335.5" r="2.5"/><circle cx="439.5" cy="331.5" r="2.5"/><circle cx="440.5" cy="333.5" r="2.5"/><circle cx="442.5" cy="326.5" r="2.5"/><circle cx="443.5" cy="324.5" r="2.5"/><circle cx="445.5" cy="365.5" r="2.5"/><circle cx="446.5" cy="337.5" r="2.5"/><circle cx="448.5" cy="327.5" r="2.5"/><circle cx="449.5" cy="326.5" r="2.5"/><circle cx="450.5" cy="322.5" r="2.5"/><circle cx="452.5" cy="335.5" r="2.5"/><circle cx="453.5" cy="351.5" r="2.5"/><circle cx="455.5" cy="329.5" r="2.5"/><circle cx="456.5" cy="323.5" r="2.5"/><circle cx="458.5" cy="319.5" r="2.5"/><circle cx="459.5" cy="327.5" r="2.5"/><circle cx="460.5" cy="321.5" r="2.5"/><circle cx="462.5" cy="327.5" r="2.5"/><circle cx="463.5" cy="320.5" r="2.5"/><circle cx="465.5" cy="321.5" r="2.5"/><circle cx="466.5" cy="321.5" r="2.5"/><circle cx="468.5" cy="319.5" r="2.5"/><circle cx="469.5" cy="317.5" r="2.5"/><circle cx="470.5" cy="319.5" r="2.5"/><circle cx="472.5" cy="312.5" r="2.5"/><circle cx="473.5" cy="324.5" r="2.5"/><circle cx="475.5" cy="334.5" r="2.5"/><circle cx="476.5" cy="337.5" r="2.5"/><circle cx="478.5" cy="338.5" r="2.5"/><circle cx="479.5" cy="337.5" r="2.5"/><circle cx="480.5" cy="335.5" r="2.5"/><circle cx="482.5" cy="335.5" r="2.5"/><circle cx="483.5" cy="334.5" r="2.5"/><circle cx="485.5" cy="336.5" r="2.5"/><circle cx="486.5" cy="331.5" r="2.5"/><circle cx="488.5" cy="334.5" r="2.5"/><circle cx="489.5" cy="372.5" r="2.5"/><circle cx="491.5" cy="339.5" r="2.5"/><circle cx="492.5" cy="332.5" r="2.5"/><circle cx="493.5" cy="366.5" r="2.5"/><circle cx="495.5" cy="322.5" r="2.5"/><circle cx="496.5" cy="316.5" r="2.5"/><circle cx="498.5" cy="315.5" r="2.5"/><circle cx="499.5" cy="314.5" r="2.5"/><circle cx="501.5" cy="315.5" r="2.5"/><circle cx="502.5" cy="322.5" r="2.5"/><circle cx="503.5" cy="352.5" r="2.5"/><circle cx="505.5" cy="332.5" r="2.5"/><circle cx="506.5" cy="326.5" r="2.5"/><circle cx="508.5" cy="325.5" r="2.5"/><circle cx="509.5" cy="322.5" r="2.5"/><circle cx="511.5" cy="363.5" r="2.5"/><circle cx="512.5" cy="334.5" r="2.5"/><circle cx="513.5" cy="328.5" r="2.5"/><circle cx="515.5" cy="326.5" r="2.5"/><circle cx="516.5" cy="323.5" r="2.5"/><circle cx="518.5" cy="311.5" r="2.5"/><circle cx="519.5" cy="307.5" r="2.5"/><circle cx="521.5" cy="299.5" r="2.5"/><circle cx="522.5" cy="301.5" r="2.5"/><circle cx="523.5" cy="322.5" r="2.5"/><circle cx="525.5" cy="301.5" r="2.5"/><circle cx="526.5" cy="298.5" r="2.5"/><circle cx="528.5" cy="296.5" r="2.5"/><circle cx="529.5" cy="294.5" r="2.5"/><circle cx="531.5" cy="296.5" r="2.5"/><circle cx="532.5" cy="300.5" r="2.5"/><circle cx="534.5" cy="341.5" r="2.5"/><circle cx="535.5" cy="347.5" r="2.5"/><circle cx="536.5" cy="344.5" r="2.5"/><circle cx="538.5" cy="344.5" r="2.5"/><circle cx="539.5" cy="341.5" r="2.5"/><circle cx="541.5" cy="344.5" r="2.5"/><circle cx="542.5" cy="345.5" r="2.5"/><circle cx="544.5" cy="347.5" r="2.5"/><circle cx="545.5" cy="347.5" r="2.5"/><circle cx="546.5" cy="347.5" r="2.5"/><circle cx="548.5" cy="344.5" r="2.5"/><circle cx="549.5" cy="340.5" r="2.5"/><circle cx="551.5" cy="340.5" r="2.5"/><circle cx="552.5" cy="338.5" r="2.5"/><circle cx="554.5" cy="337.5" r="2.5"/><circle cx="555.5" cy="329.5" r="2.5"/><circle cx="556.5" cy="324.5" r="2.5"/><circle cx="558.5" cy="356.5" r="2.5"/><circle cx="559.5" cy="311.5" r="2.5"/><circle cx="561.5" cy="316.5" r="2.5"/><circle cx="562.5" cy="306.5" r="2.5"/><circle cx="564.5" cy="304.5" r="2.5"/><circle cx="565.5" cy="304.5" r="2.5"/><circle cx="566.5" cy="303.5" r="2.5"/><circle cx="568.5" cy="299.5" r="2.5"/><circle cx="569.5" cy="303.5" r="2.5"/><circle cx="571.5" cy="334.5" r="2.5"/><circle cx="572.5" cy="354.5" r="2.5"/><circle cx="574.5" cy="325.5" r="2.5"/><circle cx="575.5" cy="317.5" r="2.5"/><circle cx="576.5" cy="315.5" r="2.5"/><circle cx="578.5" cy="323.5" r="2.5"/><circle cx="579.5" cy="326.5" r="2.5"/><circle cx="581.5" cy="326.5" r="2.5"/><circle cx="582.5" cy="329.5" r="2.5"/><circle cx="584.5" cy="333.5" r="2.5"/><circle cx="585.5" cy="333.5" r="2.5"/><circle cx="587.5" cy="316.5" r="2.5"/><circle cx="588.5" cy="307.5" r="2.5"/><circle cx="589.5" cy="298.5" r="2.5"/><circle cx="591.5" cy="308.5" r="2.5"/><circle cx="592.5" cy="335.5" r="2.5"/><circle cx="594.5" cy="320.5" r="2.5"/><circle cx="595.5" cy="309.5" r="2.5"/><circle cx="597.5" cy="306.5" r="2.5"/><circle cx="598.5" cy="314.5" r="2.5"/><circle cx="599.5" cy="324.5" r="2.5"/><circle cx="601.5" cy="325.5" r="2.5"/><circle cx="602.5" cy="319.5" r="2.5"/><circle cx="604.5" cy="365.5" r="2.5"/><circle cx="605.5" cy="312.5" r="2.5"/><circle cx="607.5" cy="357.5" r="2.5"/><circle cx="608.5" cy="317.5" r="2.5"/><circle cx="609.5" cy="327.5" r="2.5"/><circle cx="611.5" cy="311.5" r="2.5"/><circle cx="612.5" cy="306.5" r="2.5"/><circle cx="614.5" cy="314.5" r="2.5"/><circle cx="615.5" cy="303.5" r="2.5"/><circle cx="617.5" cy="306.5" r="2.5"/><circle cx="618.5" cy="311.5" r="2.5"/><circle cx="619.5" cy="318.5" r="2.5"/><circle cx="621.5" cy="321.5" r="2.5"/><circle cx="622.5" cy="322.5" r="2.5"/><circle cx="624.5" cy="318.5" r="2.5"/><circle cx="625.5" cy="363.5" r="2.5"/><circle cx="627.5" cy="315.5" r="2.5"/><circle cx="628.5" cy="311.5" r="2.5"/><circle cx="629.5" cy="305.5" r="2.5"/><circle cx="631.5" cy="313.5" r="2.5"/><circle cx="632.5" cy="310.5" r="2.5"/><circle cx="634.5" cy="302.5" r="2.5"/><circle cx="635.5" cy="307.5" r="2.5"/><circle cx="637.5" cy="306.5" r="2.5"/><circle cx="638.5" cy="309.5" r="2.5"/><circle cx="640.5" cy="313.5" r="2.5"/><circle cx="641.5" cy="341.5" r="2.5"/><circle cx="642.5" cy="303.5" r="2.5"/><circle cx="644.5" cy="319.5" r="2.5"/><circle cx="645.5" cy="322.5" r="2.5"/><circle cx="647.5" cy="321.5" r="2.5"/><circle cx="648.5" cy="325.5" r="2.5"/><circle cx="650.5" cy="333.5" r="2.5"/><circle cx="651.5" cy="338.5" r="2.5"/><circle cx="652.5" cy="327.5" r="2.5"/><circle cx="654.5" cy="314.5" r="2.5"/><circle cx="655.5" cy="309.5" r="2.5"/><circle cx="657.5" cy="284.5" r="2.5"/><circle cx="658.5" cy="309.5" r="2.5"/></g>
</svg></body></html>
